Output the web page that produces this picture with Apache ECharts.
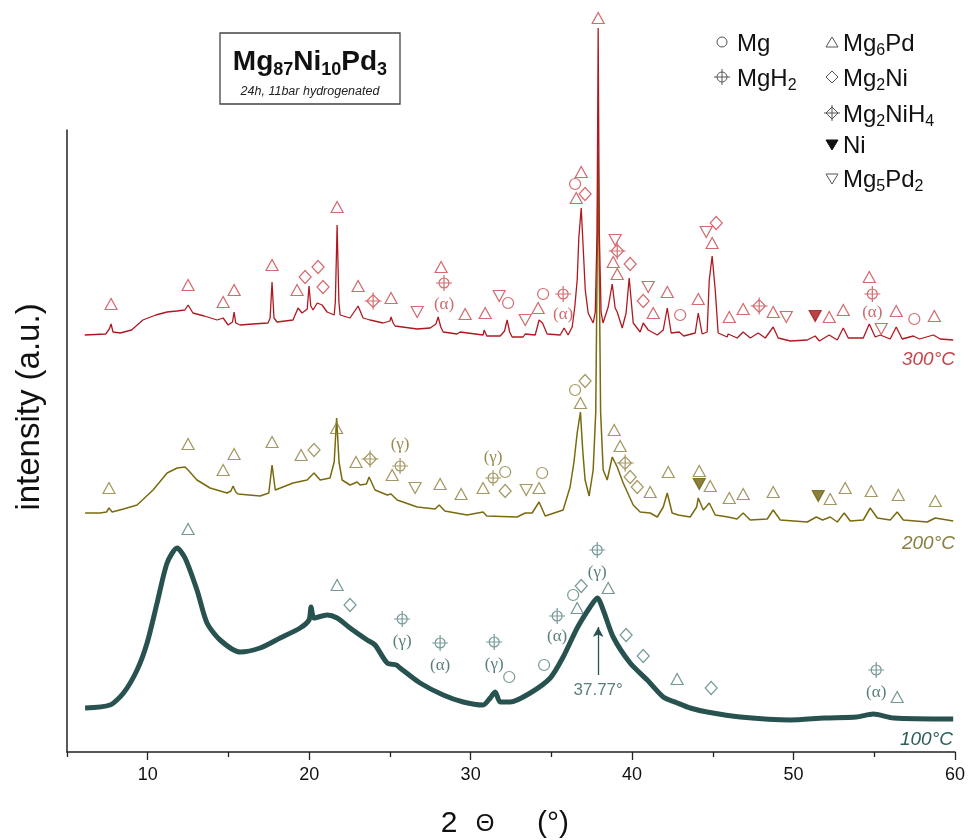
<!DOCTYPE html>
<html><head><meta charset="utf-8">
<script src="https://cdn.jsdelivr.net/npm/echarts@6/dist/echarts.min.js"></script>
<style>html,body{margin:0;padding:0;background:#fff}#c{width:968px;height:840px}</style>
</head><body><div id="c"></div>
<script>
// ---------- axis ticks ----------
const xMajorTicks = [10, 20, 30, 40, 50, 60];
const xMinorTicks = [5, 15, 25, 35, 45, 55];

// ---------- traces: [2theta, intensity (a.u., offset stacked)] ----------
const trace300 = [[6.1,417],[7.4,418],[7.62,423],[7.73,428],[7.85,420],[8.3,419],[9.0,422],[9.7,432],[10.5,437],[11.2,440],[11.8,441],[12.3,442],[12.5,447],[12.8,439],[13.5,436],[14.3,432],[14.67,434],[14.98,427],[15.25,430],[15.35,440],[15.45,429],[15.72,427],[16.5,428],[17.45,429],[17.58,434],[17.70,470],[17.82,434],[18.01,430],[19.0,432],[19.31,444],[19.56,439],[19.88,443],[19.99,466],[20.1,446],[20.24,442],[20.5,449],[20.8,447],[21.11,440],[21.55,437],[21.62,450],[21.73,527],[21.84,450],[21.92,437],[22.53,434],[23.03,446],[23.34,434],[23.77,432],[24.58,429],[25.0,431],[25.07,435],[25.2,429],[25.32,426],[26.69,423],[26.75,425],[27.49,424],[27.85,428],[27.99,435],[28.15,425],[28.30,420],[29.16,418],[29.35,420],[30.77,417],[30.84,422],[31.0,416],[31.83,416],[32.1,421],[32.26,432],[32.42,420],[32.57,415],[33.25,415],[33.38,418],[34.0,417],[34.24,432],[34.45,429],[34.74,418],[35.55,417],[35.79,424],[36.04,417],[36.29,425],[36.45,445],[36.6,472],[36.7,514],[36.85,544],[36.97,505],[37.1,462],[37.28,439],[37.59,429],[37.72,440],[37.83,520],[37.9,724],[37.97,520],[38.08,440],[38.2,429],[38.52,445],[38.77,468],[38.95,444],[39.08,440],[39.39,424],[39.63,439],[39.82,474],[40.07,429],[40.5,420],[40.69,429],[41.0,422],[41.56,417],[41.93,422],[42.18,444],[42.42,419],[42.92,420],[43.2,416],[43.91,419],[44.10,439],[44.34,418],[44.65,420],[44.78,472],[44.96,496],[45.15,462],[45.33,419],[45.89,415],[45.95,418],[46.51,414],[46.88,420],[47.32,414],[47.81,419],[48.25,414],[48.74,425],[49.05,414],[49.80,411],[50.85,412],[51.34,416],[51.6,411],[52.21,417],[52.71,412],[53.08,424],[53.39,414],[54.32,414],[54.69,428],[55.06,415],[55.37,417],[55.99,413],[56.36,425],[56.73,413],[57.42,416],[57.8,413],[58.66,417],[59.09,413],[59.89,412]];

const trace200 = [[6.12,239],[7.04,239],[7.45,240],[7.6,244],[7.8,240],[8.5,243],[9.34,247],[10.33,262],[11.2,279],[11.82,284],[12.31,285],[12.5,282],[13.05,272],[13.86,264],[14.91,259],[15.15,261],[15.29,266],[15.45,260],[15.59,258],[16.96,256],[17.5,259],[17.70,287],[17.9,262],[18.01,264],[19.0,269],[19.87,272],[20.30,279],[20.68,272],[21.29,274],[21.55,290],[21.7,334],[21.85,290],[22.04,272],[22.53,267],[22.97,270],[23.15,267],[23.55,268],[23.71,275],[24.08,262],[24.83,257],[25.07,258],[25.45,252],[26.69,245],[27.8,243],[28.05,247],[28.4,241],[29.78,237],[30.77,240],[31.0,236],[32.88,235],[33.38,239],[33.81,239],[34.24,250],[34.62,236],[35.73,242],[36.16,265],[36.4,290],[36.6,319],[36.8,340],[36.95,300],[37.09,272],[37.34,256],[37.59,282],[37.75,340],[37.9,600],[38.05,340],[38.21,282],[38.46,272],[38.77,295],[39.08,285],[39.45,269],[40.07,247],[40.5,240],[41.12,239],[41.56,235],[41.93,245],[42.18,259],[42.48,239],[42.86,237],[43.6,235],[44.0,245],[44.10,254],[44.41,242],[44.78,249],[45.15,237],[45.95,235],[46.5,233],[46.88,239],[47.32,232],[48.37,233],[48.74,242],[49.18,232],[50.85,230],[51.41,235],[51.8,232],[52.27,235],[52.71,230],[53.14,239],[53.51,231],[54.32,232],[54.75,244],[55.19,234],[55.99,232],[56.42,240],[56.8,232],[58.28,230],[58.78,234],[59.89,231]];

const trace100 = [[6.12,44],[7.66,47],[8.5,59],[9.34,82],[9.96,109],[10.58,149],[11.20,189],[11.82,204],[12.31,194],[13.05,162],[13.67,129],[14.48,112],[15.72,100],[16.96,104],[18.20,114],[19.44,124],[19.99,132],[20.12,145],[20.3,134],[21.11,137],[21.73,134],[22.53,124],[23.59,112],[24.08,107],[24.83,89],[25.4,87],[25.63,84],[26.87,69],[28.30,57],[29.54,50],[30.77,47],[31.21,54],[31.52,60],[31.83,50],[32.45,50],[33.69,59],[34.93,74],[35.73,95],[36.60,124],[37.40,145],[37.85,154],[38.21,142],[38.83,115],[39.88,89],[40.94,72],[41.93,55],[42.8,49],[43.6,44],[44.65,40],[46.7,35],[49.8,32],[51.9,34],[53.9,35],[54.94,38],[56.2,34],[59.89,33]];

// ---------- phase markers ----------
const r300_Mg6Pd = [[7.73,448],[12.5,467],[14.67,450],[15.35,462],[17.70,487],[19.25,462],[21.73,545],[23.03,466],[25.07,454],[28.17,485],[29.66,438],[30.90,439],[34.18,444],[36.54,554],[36.85,580],[37.9,734],[38.83,490],[39.08,478],[41.31,439],[42.18,460],[44.10,453],[44.96,509],[46.02,435],[46.88,443],[48.74,440],[52.21,435],[53.08,442],[54.69,475],[56.36,441],[58.72,436]];
const r300_Mg = [[32.32,449],[34.49,458],[36.47,568],[42.98,437],[57.48,433]];
const r300_MgH2 = [[28.35,469],[35.73,458],[54.88,458]];
const r300_Mg2Ni = [[19.75,475],[20.55,485],[20.86,465],[37.09,558],[39.88,488],[40.69,451],[45.21,529]];
const r300_Mg2NiH4 = [[23.96,451],[39.08,501],[47.87,446]];
const r300_Mg5Pd2 = [[26.69,440],[31.77,456],[33.38,432],[38.95,512],[41.0,465],[44.59,520],[49.55,435],[55.43,423]];
const r300_Ni = [[51.34,436]];
const r300_text = [[28.35,447,'(α)'],[35.73,437,'(α)'],[54.88,439,'(α)']];

const o200_Mg6Pd = [[7.6,264],[12.5,308],[14.67,282],[15.35,298],[17.70,310],[19.5,297],[21.7,324],[22.9,290],[25.14,277],[28.11,268],[29.41,258],[30.77,264],[34.24,264],[36.8,349],[38.89,322],[39.26,306],[41.12,260],[42.24,280],[44.16,281],[44.84,266],[46.02,254],[46.88,258],[48.74,260],[52.27,253],[53.2,264],[54.81,261],[56.49,257],[58.78,251]];
const o200_Mg = [[32.14,280],[34.43,279],[36.47,362]];
const o200_MgH2 = [[25.63,286],[31.39,274]];
const o200_Mg2Ni = [[20.3,302],[32.14,261],[37.09,371],[39.88,275],[40.32,265]];
const o200_Mg2NiH4 = [[23.77,293],[39.57,289]];
const o200_Mg5Pd2 = [[26.56,264],[33.44,262]];
const o200_Ni = [[44.16,268],[51.53,256]];
const o200_text = [[25.63,307,'(γ)'],[31.39,294,'(γ)']];

const t100_Mg6Pd = [[12.5,223],[21.73,167],[36.6,144],[38.52,164],[42.79,73],[56.42,55]];
const t100_Mg = [[32.39,75],[34.55,87],[36.35,157]];
const t100_MgH2 = [[25.76,133],[28.11,109],[31.46,110],[35.36,136],[37.84,202],[55.12,82]];
const t100_Mg2Ni = [[22.53,147],[36.85,166],[39.63,117],[40.69,96],[44.9,64]];
const t100_text = [[25.76,110,'(γ)'],[28.11,86,'(α)'],[31.46,87,'(γ)'],[35.36,115,'(α)'],[37.84,179,'(γ)'],[55.12,59,'(α)']];
const t100_peak = {x: 37.9, from: 77, to: 125, label: '37.77°', labelY: 62};

// ---------- styles ----------
const C = {
  red:  {line:'#b01820', sym:'#c8464b', fill:'#a8141a', text:'#c0474b'},
  ol:   {line:'#7a6a0e', sym:'#8c7e3a', fill:'#6e600c', text:'#7d6e20'},
  teal: {line:'#28524f', sym:'#52807d', fill:'#28524f', text:'#2f5f5c'}
};
const SYM = {
  MgH2: 'path://M0,8 L16,8 M8,0 L8,16 M13,8 A5,5 0 1 1 3,8 A5,5 0 1 1 13,8',
  Mg2NiH4: 'path://M8,2 L14,8 L8,14 L2,8 Z M0,8 L16,8 M8,0 L8,16'
};

function marks(data, kind, col) {
  let symbol = 'triangle', size = [12, 11], rotate = 0, fill = 'rgba(0,0,0,0)';
  if (kind === 'Mg') { symbol = 'circle'; size = 11; }
  if (kind === 'MgH2') { symbol = SYM.MgH2; size = 16; }
  if (kind === 'Mg2Ni') { symbol = 'diamond'; size = [12, 13]; }
  if (kind === 'Mg2NiH4') { symbol = SYM.Mg2NiH4; size = 17; }
  if (kind === 'Mg5Pd2') { rotate = 180; }
  if (kind === 'Ni') { rotate = 180; fill = col.fill; }
  return {
    type: 'scatter', data: data, symbol: symbol, symbolSize: size, symbolRotate: rotate,
    itemStyle: {color: fill, borderColor: kind === 'Ni' ? col.fill : col.sym, borderWidth: 1.2},
    silent: true, z: 4
  };
}
function texts(data, col, font, size) {
  return {
    type: 'scatter', data: data, symbol: 'circle', symbolSize: 1,
    itemStyle: {color: 'rgba(0,0,0,0)'},
    label: {show: true, position: 'inside', formatter: p => p.data[2],
      color: col, fontFamily: font, fontSize: size},
    silent: true, z: 5
  };
}
function line(data, color, width) {
  return {type: 'line', data: data, showSymbol: false, symbol: 'none',
    lineStyle: {color: color, width: width}, silent: true, z: 3};
}

const series = [
  Object.assign(line(trace100, C.teal.line, 5), {lineStyle: {color: C.teal.line, width: 5, join: 'round'}, smooth: 0.25,
    markLine: {silent: true, symbol: ['none', 'arrow'], symbolSize: [8, 10],
      lineStyle: {color: C.teal.line, width: 1.3, type: 'solid'}, label: {show: false},
      data: [[{coord: [t100_peak.x, t100_peak.from]}, {coord: [t100_peak.x, t100_peak.to]}]]}}),
  line(trace200, C.ol.line, 1.5),
  line(trace300, C.red.line, 1.3),
  marks(r300_Mg6Pd, 'Mg6Pd', C.red), marks(r300_Mg, 'Mg', C.red), marks(r300_MgH2, 'MgH2', C.red),
  marks(r300_Mg2Ni, 'Mg2Ni', C.red), marks(r300_Mg2NiH4, 'Mg2NiH4', C.red), marks(r300_Mg5Pd2, 'Mg5Pd2', C.red),
  marks(r300_Ni, 'Ni', C.red),
  marks(o200_Mg6Pd, 'Mg6Pd', C.ol), marks(o200_Mg, 'Mg', C.ol), marks(o200_MgH2, 'MgH2', C.ol),
  marks(o200_Mg2Ni, 'Mg2Ni', C.ol), marks(o200_Mg2NiH4, 'Mg2NiH4', C.ol), marks(o200_Mg5Pd2, 'Mg5Pd2', C.ol),
  marks(o200_Ni, 'Ni', C.ol),
  marks(t100_Mg6Pd, 'Mg6Pd', C.teal), marks(t100_Mg, 'Mg', C.teal), marks(t100_MgH2, 'MgH2', C.teal),
  marks(t100_Mg2Ni, 'Mg2Ni', C.teal),
  texts(r300_text, C.red.text, 'Liberation Serif', 17),
  texts(o200_text, C.ol.text, 'Liberation Serif', 17),
  texts(t100_text, C.teal.text, 'Liberation Serif', 17),
  texts([[t100_peak.x, t100_peak.labelY, t100_peak.label]], C.teal.text, 'Liberation Sans', 17)
];

const subRich = (fs, lh, bold) => ({fontSize: fs, lineHeight: lh, verticalAlign: 'bottom', fontWeight: bold ? 'bold' : 'normal', fontFamily: 'Liberation Sans', fill: '#111'});
const legCol = '#555';
function legText(x, y, t) {
  return {type: 'text', x: x, y: y, style: {text: t, fontFamily: 'Liberation Sans', fontSize: 24, lineHeight: 30,
    fill: '#111', verticalAlign: 'middle', align: 'left', rich: {s: subRich(16, 16, false)}}};
}
function axText(x, t, fs) {
  return {type: 'text', x: x, y: 824, style: {text: t, fontFamily: 'Liberation Sans', fontSize: fs, fill: '#111', align: 'center', verticalAlign: 'middle'}};
}

const graphic = [
  {type: 'rect', shape: {x: 220, y: 33, width: 180, height: 71}, style: {fill: '#fff', stroke: '#444', lineWidth: 1.3}},
  {type: 'text', x: 310, y: 62, style: {text: 'Mg{s|87}Ni{s|10}Pd{s|3}', fontFamily: 'Liberation Sans', fontWeight: 'bold', fontSize: 28, lineHeight: 34,
    fill: '#111', align: 'center', verticalAlign: 'middle', rich: {s: subRich(18, 18, true)}}},
  {type: 'text', x: 310, y: 92, style: {text: '24h, 11bar hydrogenated', fontFamily: 'Liberation Sans', fontStyle: 'italic', fontSize: 12.5,
    fill: '#222', align: 'center', verticalAlign: 'middle'}},
  // legend
  {type: 'circle', shape: {cx: 722, cy: 42, r: 5}, style: {fill: 'none', stroke: legCol, lineWidth: 1}},
  {type: 'group', children: [
    {type: 'circle', shape: {cx: 722, cy: 77, r: 5}, style: {fill: 'none', stroke: legCol, lineWidth: 1}},
    {type: 'line', shape: {x1: 714, y1: 77, x2: 730, y2: 77}, style: {stroke: legCol, lineWidth: 1}},
    {type: 'line', shape: {x1: 722, y1: 69, x2: 722, y2: 85}, style: {stroke: legCol, lineWidth: 1}}]},
  {type: 'polygon', shape: {points: [[832, 37], [838, 47], [826, 47]]}, style: {fill: 'none', stroke: legCol, lineWidth: 1}},
  {type: 'polygon', shape: {points: [[832, 71], [838, 77], [832, 83], [826, 77]]}, style: {fill: 'none', stroke: legCol, lineWidth: 1}},
  {type: 'group', children: [
    {type: 'polygon', shape: {points: [[832, 107], [838, 113], [832, 119], [826, 113]]}, style: {fill: 'none', stroke: legCol, lineWidth: 1}},
    {type: 'line', shape: {x1: 824, y1: 113, x2: 840, y2: 113}, style: {stroke: legCol, lineWidth: 1}},
    {type: 'line', shape: {x1: 832, y1: 105, x2: 832, y2: 121}, style: {stroke: legCol, lineWidth: 1}}]},
  {type: 'polygon', shape: {points: [[826, 140], [838, 140], [832, 150]]}, style: {fill: '#111', stroke: '#111', lineWidth: 1}},
  {type: 'polygon', shape: {points: [[826, 174], [838, 174], [832, 184]]}, style: {fill: 'none', stroke: legCol, lineWidth: 1}},
  legText(737, 44, 'Mg'),
  legText(737, 79, 'MgH{s|2}'),
  legText(843, 44, 'Mg{s|6}Pd'),
  legText(843, 79, 'Mg{s|2}Ni'),
  legText(843, 115, 'Mg{s|2}NiH{s|4}'),
  legText(843, 146, 'Ni'),
  legText(843, 180, 'Mg{s|5}Pd{s|2}'),
  // temperature labels
  {type: 'text', x: 955, y: 360, style: {text: '300°C', fontFamily: 'Liberation Sans', fontStyle: 'italic', fontSize: 19, fill: C.red.text, align: 'right', verticalAlign: 'middle'}},
  {type: 'text', x: 955, y: 544, style: {text: '200°C', fontFamily: 'Liberation Sans', fontStyle: 'italic', fontSize: 19, fill: '#8a7d40', align: 'right', verticalAlign: 'middle'}},
  {type: 'text', x: 953, y: 740, style: {text: '100°C', fontFamily: 'Liberation Sans', fontStyle: 'italic', fontSize: 19, fill: C.teal.text, align: 'right', verticalAlign: 'middle'}},
  // axis titles
  {type: 'text', x: 30, y: 407, rotation: Math.PI / 2, style: {text: 'intensity (a.u.)', fontFamily: 'Liberation Sans', fontSize: 33, fill: '#111', align: 'center', verticalAlign: 'middle'}},
  axText(449, '2', 30), axText(485, 'Θ', 24), axText(553, '(°)', 30)
];

const option = {
  animation: false,
  backgroundColor: '#fff',
  grid: [
    {left: 67, right: 13, top: 12, bottom: 88},
    {left: 67, right: 13, top: 130, bottom: 88}
  ],
  xAxis: [
    {gridIndex: 0, type: 'value', min: 5, max: 60,
      axisLine: {show: true, lineStyle: {color: '#222', width: 1.5}},
      axisTick: {show: true, customValues: xMajorTicks, length: 8, lineStyle: {color: '#222', width: 1.3}},
      axisLabel: {show: true, customValues: xMajorTicks, fontSize: 18, color: '#111', fontFamily: 'Liberation Sans', margin: 14},
      splitLine: {show: false}},
    {gridIndex: 0, type: 'value', min: 5, max: 60,
      axisLine: {show: false},
      axisTick: {show: true, customValues: xMinorTicks, length: 5, lineStyle: {color: '#222', width: 1.3}},
      axisLabel: {show: false}, splitLine: {show: false}, position: 'bottom'},
    {gridIndex: 1, type: 'value', min: 5, max: 60, show: false}
  ],
  yAxis: [
    {gridIndex: 0, type: 'value', min: 0, max: 740, show: false},
    {gridIndex: 1, type: 'value', min: 0, max: 1, show: true,
      axisLine: {show: true, lineStyle: {color: '#222', width: 1.5}},
      axisTick: {show: false}, axisLabel: {show: false}, splitLine: {show: false}}
  ],
  series: series,
  graphic: graphic
};

const chart = echarts.init(document.getElementById('c'), null, {renderer: 'canvas'});
chart.setOption(option);
</script>
</body></html>
